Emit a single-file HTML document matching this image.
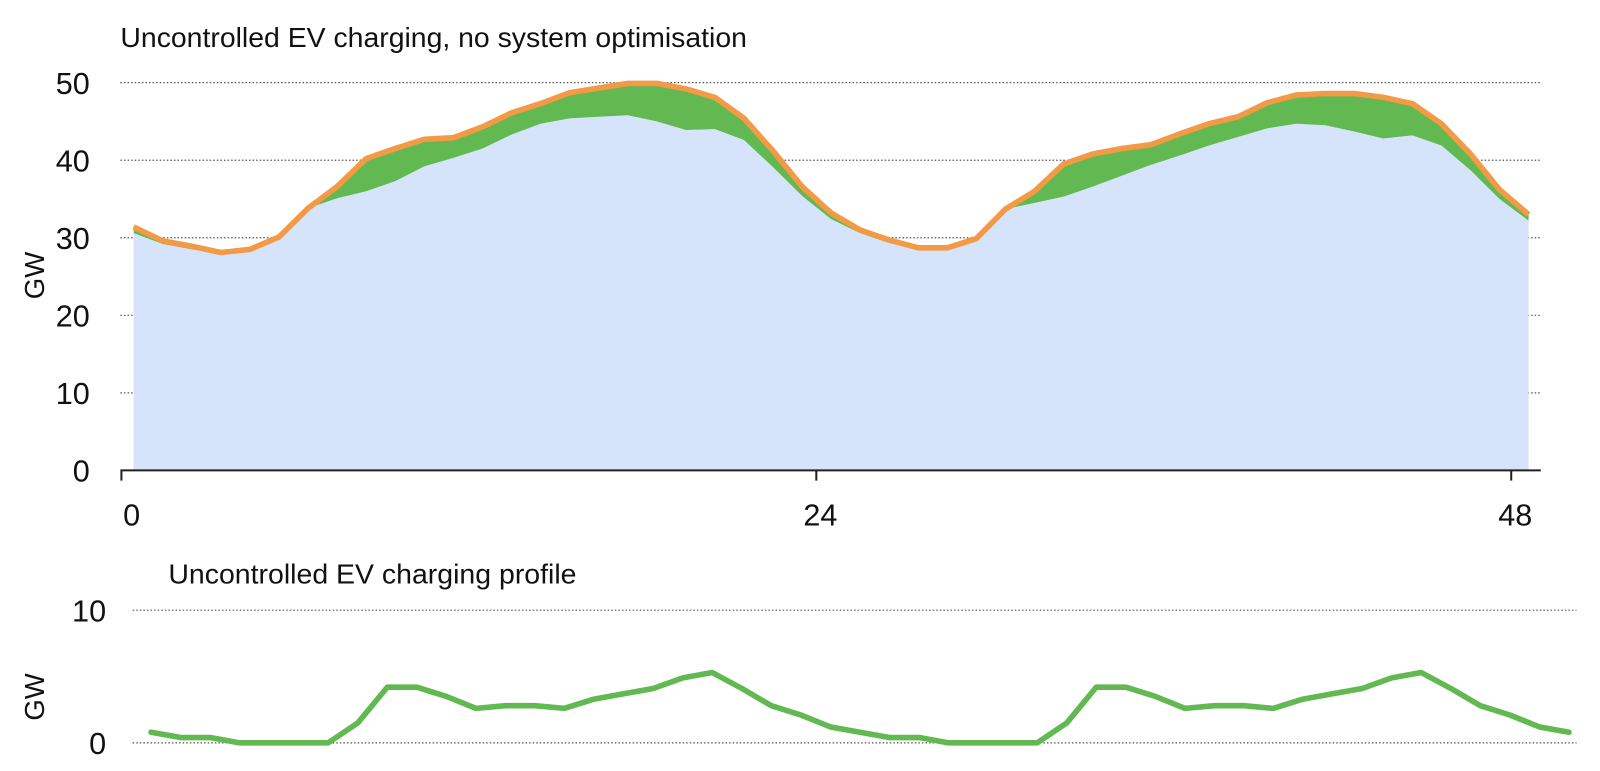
<!DOCTYPE html>
<html><head><meta charset="utf-8"><style>
body{margin:0;background:#fff;}
svg text{font-family:"Liberation Sans",sans-serif;fill:#111;}
</style></head><body>
<svg width="1600" height="766" xmlns="http://www.w3.org/2000/svg"><g id="chart" transform="scale(1.0204)"></g></svg>
<script>
const hours = [0,1,2,3,4,5,6,7,8,9,10,11,12,13,14,15,16,17,18,19,20,21,22,23,24,25,26,27,28,29,30,31,32,33,34,35,36,37,38,39,40,41,42,43,44,45,46,47,48];
const totalDemand = [31.4,29.6,28.9,28.1,28.5,30.1,33.8,36.6,40.2,41.5,42.7,42.9,44.3,46.1,47.3,48.7,49.3,49.9,49.9,49.2,48.1,45.4,41.2,36.6,33.2,31.0,29.7,28.7,28.7,29.9,33.7,36.0,39.5,40.8,41.5,42.0,43.4,44.7,45.6,47.4,48.4,48.6,48.6,48.1,47.3,44.7,40.8,36.2,33.0];
const evProfile = [0.8,0.4,0.4,0,0,0,0,1.5,4.2,4.2,3.5,2.6,2.8,2.8,2.6,3.3,3.7,4.1,4.9,5.3,4.1,2.8,2.1,1.2,0.8,0.4,0.4,0,0,0,0,1.5,4.2,4.2,3.5,2.6,2.8,2.8,2.6,3.3,3.7,4.1,4.9,5.3,4.1,2.8,2.1,1.2,0.8];
const topYTicks = [0,10,20,30,40,50];
const topXTicks = [0,24,48];
const botYTicks = [0,10];

const NS="http://www.w3.org/2000/svg";
const svg=document.getElementById('chart');
function mk(tag,attrs,parent){const e=document.createElementNS(NS,tag);for(const k in attrs)e.setAttribute(k,attrs[k]);(parent||svg).appendChild(e);return e;}

const tx=h=>131+h*28.48;
const tickX=h=>119+h*28.375;
const ty=v=>461-v*7.6;
const bx=h=>148+h*28.95;
const by=v=>728-v*13;

let t=mk('text',{x:118,y:46,'font-size':27,textLength:614,lengthAdjust:'spacingAndGlyphs'});
t.textContent='Uncontrolled EV charging, no system optimisation';



topYTicks.forEach(v=>{
  if(v>0){
    const g=mk('line',{x1:118,x2:1510,y1:ty(v),y2:ty(v),stroke:'#555','stroke-width':1.2,'stroke-dasharray':'1.5,2'});
    
    
  }
  const l=mk('text',{x:88,y:ty(v)+11,'font-size':30,'text-anchor':'end'});
  l.textContent=v;
  
  
});
let yt=mk('text',{x:0,y:0,'font-size':27,'text-anchor':'middle',transform:'translate(43,270) rotate(-90)'});
yt.textContent='GW';



const base=totalDemand.map((v,i)=>v-evProfile[i]);
let dBase='M'+tx(hours[0])+','+ty(0);
hours.forEach((h,i)=>{dBase+=' L'+tx(h)+','+ty(base[i]);});
dBase+=' L'+tx(hours[hours.length-1])+','+ty(0)+' Z';
let a=mk('path',{d:dBase,fill:'#d5e3fb'});


let dEv='M'+hours.map((h,i)=>tx(h)+','+ty(totalDemand[i])).join(' L');
for(let i=hours.length-1;i>=0;i--)dEv+=' L'+tx(hours[i])+','+ty(base[i]);
dEv+=' Z';
let e=mk('path',{d:dEv,fill:'#62b952'});


let ln=mk('polyline',{points:hours.map((h,i)=>tx(h)+','+ty(totalDemand[i])).join(' '),fill:'none',stroke:'#f29a45','stroke-width':5.5,'stroke-linejoin':'round'});



let ax=mk('line',{x1:118,x2:1510,y1:461,y2:461,stroke:'#222','stroke-width':2});


topXTicks.forEach(h=>{
  const tk=mk('line',{x1:tickX(h),x2:tickX(h),y1:461,y2:471,stroke:'#222','stroke-width':2});
  
  
  const l=mk('text',{x:tickX(h)+(h===0?10:4),y:515,'font-size':30,'text-anchor':'middle'});
  l.textContent=h;
  
  
});

let bt=mk('text',{x:165,y:572,'font-size':27,textLength:400,lengthAdjust:'spacingAndGlyphs'});
bt.textContent='Uncontrolled EV charging profile';


botYTicks.forEach(v=>{
  const g=mk('line',{x1:130,x2:1545,y1:by(v),y2:by(v),stroke:'#555','stroke-width':1.2,'stroke-dasharray':'1.5,2'});
  
  
  const l=mk('text',{x:104,y:by(v)+11,'font-size':30,'text-anchor':'end'});
  l.textContent=v;
  
  
});
let byt=mk('text',{x:0,y:0,'font-size':27,'text-anchor':'middle',transform:'translate(43,683) rotate(-90)'});
byt.textContent='GW';


let bl=mk('polyline',{points:hours.map((h,i)=>bx(h)+','+by(evProfile[i])).join(' '),fill:'none',stroke:'#62b952','stroke-width':5.5,'stroke-linejoin':'round','stroke-linecap':'round'});


</script>
</body></html>
